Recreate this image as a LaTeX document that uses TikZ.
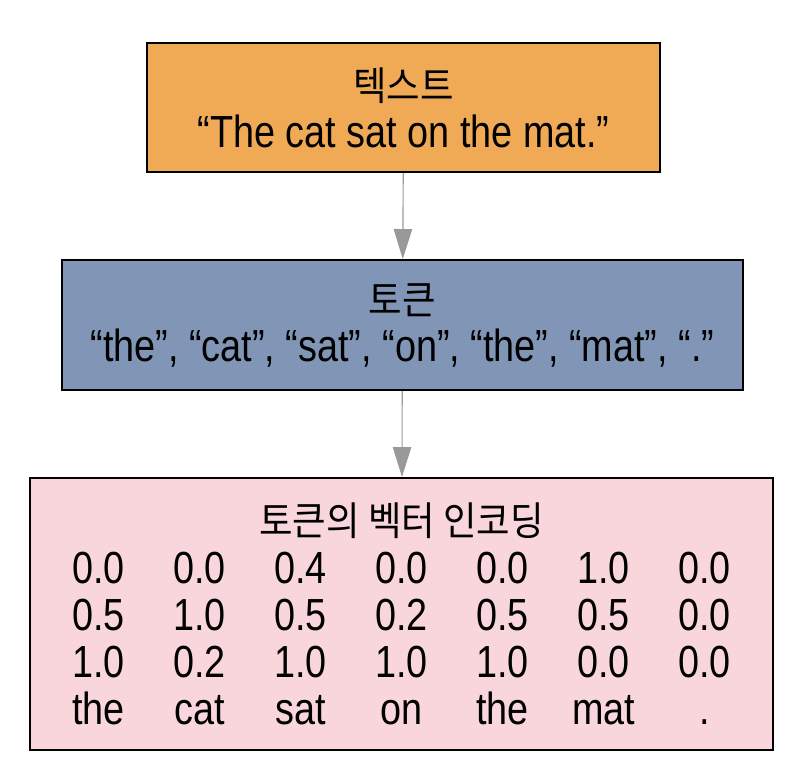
\documentclass[tikz,border=0pt]{standalone}
\usepackage{fontspec}
\setmainfont{Liberation Sans}[FakeStretch=0.84]
\newfontfamily\kr{Noto Sans CJK KR}[Scale=0.88, FakeStretch=0.92]
\usetikzlibrary{arrows.meta}
\definecolor{textorange}{HTML}{F0AA55}
\definecolor{tokenblue}{HTML}{8196B6}
\definecolor{vecpink}{HTML}{F8D6DC}
\newcommand{\cell}[1]{\makebox[2.525cm]{#1}}

\begin{document}
\begin{tikzpicture}[
    box/.style={draw, line width=1.4pt, fill=#1, align=center, font=\fontsize{32}{33.5}\selectfont},
    arrow/.style={-{Triangle[length=7.5mm, width=4.6mm]}, line width=0.8pt, color=gray!80}
]
\useasboundingbox (0,0) rectangle (20.075,-19.4);
\node[box=textorange, minimum width=12.83cm, minimum height=3.23cm] (text) at (10.09,-2.69) {{\kr 텍스트}\\“The cat sat on the mat.”};
\node[box=tokenblue, minimum width=17.03cm, minimum height=3.25cm] (tokens) at (10.06,-8.125) {{\kr 토큰}\\“the”, “cat”, “sat”, “on”, “the”, “mat”, “.”};
\node[box=vecpink, minimum width=18.58cm, minimum height=6.8cm] (vectors) at (10.04,-15.35) {{\kr 토큰의 벡터 인코딩}\\
  \cell{0.0}\cell{0.0}\cell{0.4}\cell{0.0}\cell{0.0}\cell{1.0}\cell{0.0}\\
  \cell{0.5}\cell{1.0}\cell{0.5}\cell{0.2}\cell{0.5}\cell{0.5}\cell{0.0}\\
  \cell{1.0}\cell{0.2}\cell{1.0}\cell{1.0}\cell{1.0}\cell{0.0}\cell{0.0}\\
  \cell{the}\cell{cat}\cell{sat}\cell{on}\cell{the}\cell{mat}\cell{.}};

\draw[arrow] (text) -- (tokens);
\draw[arrow] (tokens) -- (vectors);
\end{tikzpicture}
\end{document}
